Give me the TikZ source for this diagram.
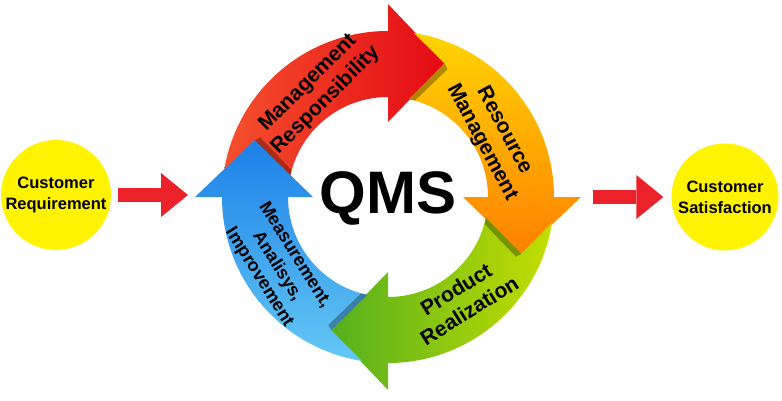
\documentclass[tikz,border=0pt]{standalone}
\usepackage{fontspec}
\setmainfont{Liberation Sans}
\usetikzlibrary{arrows.meta}

\definecolor{goalyellow}{RGB}{255,243,0}
\definecolor{flowred}{RGB}{236,34,42}
\definecolor{redA}{RGB}{245,80,45}
\definecolor{redB}{RGB}{228,10,20}
\definecolor{orangeA}{RGB}{255,212,0}
\definecolor{orangeB}{RGB}{255,128,0}
\definecolor{greenA}{RGB}{196,222,0}
\definecolor{greenB}{RGB}{84,176,30}
\definecolor{blueA}{RGB}{100,200,245}
\definecolor{blueB}{RGB}{28,128,232}

\tikzset{
  goal/.style={circle, fill=goalyellow, minimum size=110pt, inner sep=0pt, align=center,
    font=\fontsize{16.5}{21}\selectfont\bfseries},
  flow/.style={draw=flowred, line width=14pt,
    -{Triangle[length=27pt,width=44pt,line width=0pt]}},
  redring/.style={left color=redA, right color=redB},
  orangering/.style={top color=orangeA, bottom color=orangeB},
  greenring/.style={right color=greenA, left color=greenB},
  bluering/.style={bottom color=blueA, top color=blueB},
  lbl/.style={align=center, inner sep=0pt, font=\fontsize{21}{25}\selectfont\bfseries},
}

\begin{document}
\begin{tikzpicture}[x=1pt, y=1pt]
  \useasboundingbox (0,0) rectangle (782,400);

  \node (req) [goal] at (56,205) {Customer\\Requirement};
  \node (sat) [goal, minimum size=107pt] at (725,203) {Customer\\Satisfaction};

  \begin{scope}[shift={(388,203)}]
    % the four arrows of the cycle
    \foreach \h/\s in {90/redring, 0/orangering, -90/greenring, 180/bluering}{
      \pgfmathsetmacro\p{\h+90}
      \shade[\s] ({\p-9}:166) arc[start angle=\p-9, end angle=\h, radius=166pt]
        -- (\h:193) -- ({\h-23}:145) -- (\h:75) -- (\h:100)
        arc[start angle=\h, end angle=\p-12, radius=100pt]
        -- ({\p-23}:145) -- cycle;
      \fill[black, opacity=0.3] ({\p-23}:145) -- ({\p-12}:100)
        -- ({\p-15.5}:100) -- ({\p-25}:141) -- cycle;
    }
    \coordinate (intip) at (180:193);
    \coordinate (outtip) at (0:193);

    \node (qms) at (0,-1) {\fontsize{60}{60}\selectfont\bfseries QMS};
    \node (mgmt) [lbl, rotate=45] at (124:127) {Management\\Responsibility};
    \node (resm) [lbl, rotate=-62] at (30:121) {Resource\\Management};
    \node (prod) [lbl, rotate=32] at (-54:127) {Product\\Realization};
    \node (meas) [lbl, rotate=-58, font=\fontsize{18}{21}\selectfont\bfseries]
      at (212:131) {Measurement,\\Analisys,\\Improvement};
  \end{scope}

  \draw[flow, shorten <=7pt, shorten >=7pt] (req.east) -- (req.east -| intip);
  \draw[flow, shorten <=12pt, shorten >=8pt] (outtip |- sat.west) -- (sat.west);
\end{tikzpicture}
\end{document}
